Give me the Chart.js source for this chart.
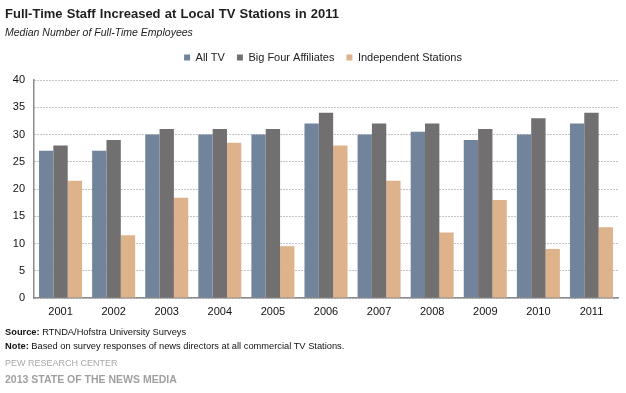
<!DOCTYPE html>
<html>
<head>
<meta charset="utf-8">
<script src="https://cdn.jsdelivr.net/npm/chart.js@4"></script>
<style>
  html, body { margin: 0; padding: 0; background: #fff; }
  body { width: 626px; height: 393px; position: relative; overflow: hidden; font-family: Arial, "Liberation Sans", sans-serif; }
  #wrap { position: absolute; left: 0; top: 0; width: 626px; height: 393px; }
  .t { position: absolute; left: 5px; white-space: nowrap; line-height: 1; }
  #title { top: 7px; font-size: 13px; font-weight: bold; color: #1e1e1e; word-spacing: 0.6px; }
  #subtitle { top: 27px; font-size: 10.5px; font-style: italic; color: #222; }
  #source { top: 328px; font-size: 9.3px; color: #111; }
  #note { top: 342px; font-size: 9.3px; color: #111; }
  #pew { top: 359px; font-size: 9px; color: #a8a8a8; }
  #som { top: 374px; font-size: 10.5px; font-weight: bold; color: #a0a0a0; }
</style>
</head>
<body>
<div id="wrap"><canvas id="c" width="626" height="393"></canvas></div>
<div class="t" id="title">Full-Time Staff Increased at Local TV Stations in 2011</div>
<div class="t" id="subtitle">Median Number of Full-Time Employees</div>
<div class="t" id="source"><b>Source:</b> RTNDA/Hofstra University Surveys</div>
<div class="t" id="note"><b>Note:</b> Based on survey responses of news directors at all commercial TV Stations.</div>
<div class="t" id="pew">PEW RESEARCH CENTER</div>
<div class="t" id="som">2013 STATE OF THE NEWS MEDIA</div>
<script>
const categories = ["2001","2002","2003","2004","2005","2006","2007","2008","2009","2010","2011"];
const seriesNames = ["All TV", "Big Four Affiliates", "Independent Stations"];
const allTV = [27, 27, 30, 30, 30, 32, 30, 30.5, 29, 30, 32];
const bigFour = [28, 29, 31, 31, 31, 34, 32, 32, 31, 33, 34];
const independent = [21.5, 11.5, 18.4, 28.5, 9.5, 28, 21.5, 12, 18, 9, 13];
const yTicks = [0, 5, 10, 15, 20, 25, 30, 35, 40];

const colors = ["#71849b", "#716f6f", "#deb28b"];
const values = [allTV, bigFour, independent];

const legendShift = {
  id: 'legendShift',
  afterLayout(chart) {
    const lg = chart.legend;
    if (!lg) return;
    const dx = 14, dy = -7;
    lg.left += dx; lg.right += dx;
    lg.top += dy; lg.bottom += dy;
  }
};

new Chart(document.getElementById('c'), {
  type: 'bar',
  data: {
    labels: categories,
    datasets: seriesNames.map((n, i) => ({
      label: n,
      data: values[i],
      backgroundColor: colors[i],
      borderWidth: 0,
      categoryPercentage: 0.81,
      barPercentage: 1.0
    }))
  },
  options: {
    responsive: false,
    animation: false,
    devicePixelRatio: 1,
    layout: { padding: { left: 0, right: 8, top: 47, bottom: 73 } },
    plugins: {
      tooltip: { enabled: false },
      legend: {
        display: true,
        position: 'top',
        labels: {
          boxWidth: 6,
          boxHeight: 6,
          padding: 12,
          color: '#222',
          font: { family: 'Arial, "Liberation Sans"', size: 11 }
        }
      }
    },
    scales: {
      x: {
        grid: { display: false, drawTicks: false },
        border: { display: true, color: '#8c8c8c', width: 1.5 },
        ticks: { color: '#111', padding: 7, font: { family: 'Arial, "Liberation Sans"', size: 11 }, maxRotation: 0 },
        afterFit(s) { s.height = 22; }
      },
      y: {
        min: 0, max: 40,
        afterBuildTicks(s) { s.ticks = yTicks.map(v => ({ value: v })); },
        grid: { display: true, drawTicks: false, color: '#8a8a8a', lineWidth: 1 },
        border: { display: true, color: '#8c8c8c', width: 1.5, dash: [1, 2] },
        ticks: { color: '#111', padding: 9, font: { family: 'Arial, "Liberation Sans"', size: 11 } },
        afterFit(s) { s.width = 34; }
      }
    }
  },
  plugins: [legendShift]
});
</script>
</body>
</html>
